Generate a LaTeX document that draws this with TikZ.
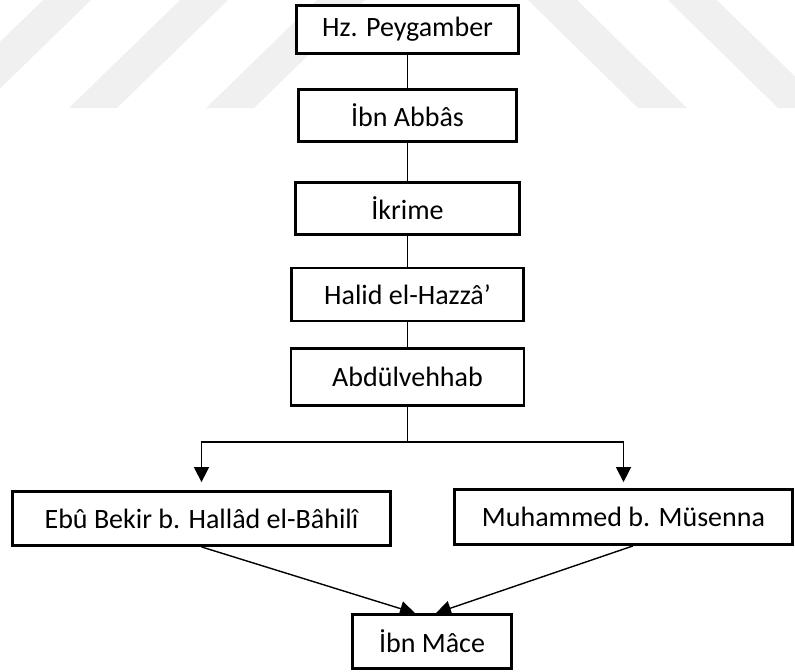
\documentclass[tikz,border=0pt]{standalone}
\usepackage{fontspec}
\setmainfont{Carlito}
\usetikzlibrary{positioning,arrows.meta}

\begin{document}
\begin{tikzpicture}[
    x=0.5pt, y=-0.5pt,
    person/.style={rectangle, draw=black, line width=1.4pt, fill=white, minimum height=26pt, align=center, inner sep=2pt, font=\fontsize{14}{16}\selectfont},
    link/.style={line width=0.7pt},
    arrow/.style={link, -{Triangle[length=7.5pt,width=7.5pt]}},
    wmark/.style={fill=black!6, draw=none}
]
    \useasboundingbox (0,0) rectangle (795,671);

    % faint stripes in the background
    \begin{scope}
        \clip (0,0) rectangle (795,671);
        \foreach \xa in {43,180,317}
            \fill[wmark] (\xa,0) -- ++(48,0) -- ++(-111,108) -- ++(-48,0) -- cycle;
        \foreach \xa in {528,668}
            \fill[wmark] (\xa,0) -- ++(49,0) -- ++(110,108) -- ++(-49,0) -- cycle;
    \end{scope}

    \node[person, minimum width=111pt, minimum height=24pt] (hz) at (407.5,29.5) {Hz. Peygamber};

    \node[person, minimum width=109pt, below=16.5pt of hz] (abbas) {İbn Abbâs};

    \node[person, minimum width=112pt, below=19pt of abbas] (ikrime) {İkrime};

    \node[person, minimum width=116pt, minimum height=26.5pt, below=15.5pt of ikrime] (halid) {Halid el-Hazzâ’};

    \node[person, minimum width=116.5pt, minimum height=28.5pt, below=12.5pt of halid] (abdul) {Abdülvehhab};

    \coordinate[below=17.5pt of abdul] (split);

    \node[person, minimum width=189pt, minimum height=27pt] (ebu) at (201.5,518.5) {Ebû Bekir b. Hallâd el-Bâhilî};

    \node[person, minimum width=169pt, minimum height=27.5pt] (mus) at (623.5,517) {Muhammed b. Müsenna};

    \node[person, minimum width=79.6pt, minimum height=27pt] (mace) at (432,641.5) {İbn Mâce};

    \draw[link] (hz) -- (abbas);
    \draw[link] (abbas) -- (ikrime);
    \draw[link] (ikrime) -- (halid);
    \draw[link] (halid) -- (abdul);
    \draw[link] (abdul) -- (split);
    \draw[arrow, shorten >=4pt] (split) -| (ebu.north);
    \draw[arrow, shorten >=3pt] (split) -| (mus.north);
    \draw[arrow] (ebu.south) -- ([xshift=-8.5pt]mace.north);
    \draw[arrow] ([xshift=4.75pt]mus.south) -- ([xshift=2pt]mace.north);
\end{tikzpicture}
\end{document}
